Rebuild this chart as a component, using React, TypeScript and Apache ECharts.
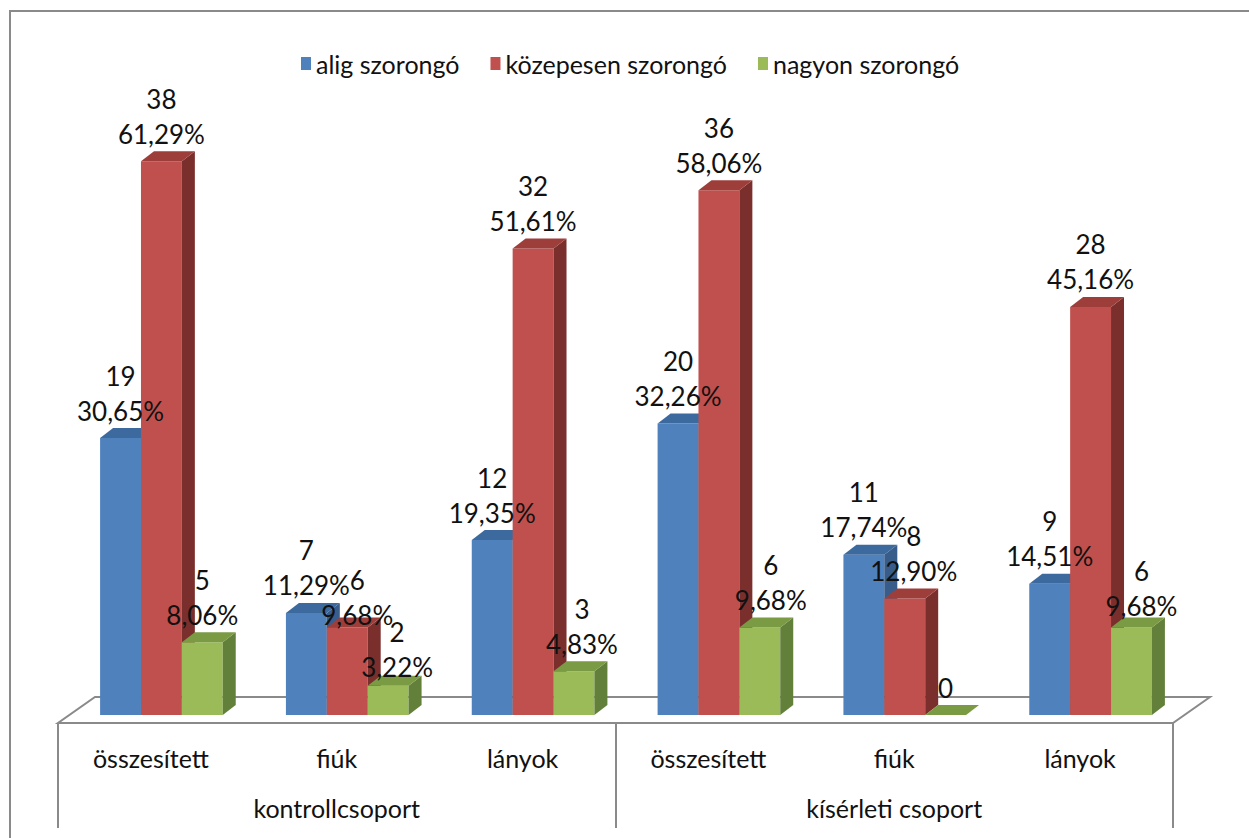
import React, { useEffect, useRef } from "react";
import * as echarts from "echarts";

// ---- data ----
const CATEGORIES = ["összesített", "fiúk", "lányok", "összesített", "fiúk", "lányok"];
const GROUPS = ["kontrollcsoport", "kísérleti csoport"];
const SERIES_NAMES = ["alig szorongó", "közepesen szorongó", "nagyon szorongó"];

const ALIG_COUNTS = [19, 7, 12, 20, 11, 9];
const ALIG_PCT = [30.65, 11.29, 19.35, 32.26, 17.74, 14.51];
const KOZEPES_COUNTS = [38, 6, 32, 36, 8, 28];
const KOZEPES_PCT = [61.29, 9.68, 51.61, 58.06, 12.9, 45.16];
const NAGYON_COUNTS = [5, 2, 3, 6, 0, 6];
const NAGYON_PCT = [8.06, 3.22, 4.83, 9.68, 0, 9.68];

const COUNTS = [ALIG_COUNTS, KOZEPES_COUNTS, NAGYON_COUNTS];
const PCTS = [ALIG_PCT, KOZEPES_PCT, NAGYON_PCT];

// ---- layout & style ----
const W = 1249;
const H = 838;
const FONT = 'Lato, "Open Sans", "DejaVu Sans", sans-serif';
const GRID_LEFT = 58;
const GRID_RIGHT = 1173;
const BASE_Y = 723;
const Y_MAX = 40;
const GRID_TOP = 140;

const BAR_RATIO = 0.22; // width of one bar as a share of the category band
const BAR_SHIFT_X = 10.5; // bars stand a little back on the floor
const BAR_SHIFT_Y = -8;
const DEPTH_X = 13;
const DEPTH_Y = -10;
const FLOOR_DX = 37;
const FLOOR_DY = -26;

const FRONT = ["#4F81BD", "#C0504D", "#9BBB59"];
const TOP = ["#3D6A9E", "#9E3E3B", "#7A9A43"];
const SIDE = ["#385D8A", "#7A2F2D", "#63803A"];
const LINE_GRAY = "#8A8A8A";

// small hand placement of the crowded value labels (px)
const LABEL_NUDGE_X = [
  [0, 0, 0, 0, 0, 0],
  [0, 10, 0, 0, 9, 0],
  [0, 9, 8, 11, 0, 10],
];
const LABEL_NUDGE_Y = [
  [0, 0, 0, 0, 0, 0],
  [0, 15, 0, 0, 0, 0],
  [0, 9, 0, 0, 0, 6],
];

const fmtPct = (p: number) => p.toFixed(2).replace(".", ",") + "%";

function barGeometry(api: any, k: number, i: number, v: number) {
  const base = api.coord([i, 0]);
  const top = api.coord([i, v]);
  const band = api.size([1, 0])[0];
  const w = band * BAR_RATIO;
  const x = base[0] + BAR_SHIFT_X - 1.5 * w + k * w;
  return { x, w, yb: base[1] + BAR_SHIFT_Y, yt: top[1] + BAR_SHIFT_Y };
}

function barSeries(k: number) {
  return {
    type: "custom",
    name: SERIES_NAMES[k],
    xAxisIndex: 0,
    yAxisIndex: 0,
    z: 2,
    itemStyle: { color: FRONT[k] },
    encode: { x: 0, y: 1 },
    data: COUNTS[k].map((c, i) => [i, c]),
    renderItem: (params: any, api: any) => {
      const i = api.value(0);
      const v = api.value(1);
      const { x, w, yb, yt } = barGeometry(api, k, i, v);
      const children: any[] = [];
      if (yb - yt > 0.5) {
        children.push({
          type: "rect",
          shape: { x, y: yt, width: w, height: yb - yt },
          style: { fill: FRONT[k] },
        });
        children.push({
          type: "polygon",
          shape: {
            points: [
              [x + w, yt],
              [x + w + DEPTH_X, yt + DEPTH_Y],
              [x + w + DEPTH_X, yb + DEPTH_Y],
              [x + w, yb],
            ],
          },
          style: { fill: SIDE[k] },
        });
      }
      children.push({
        type: "polygon",
        shape: {
          points: [
            [x, yt],
            [x + w, yt],
            [x + w + DEPTH_X, yt + DEPTH_Y],
            [x + DEPTH_X, yt + DEPTH_Y],
          ],
        },
        style: { fill: TOP[k] },
      });
      return { type: "group", children };
    },
  };
}

const labelData: number[][] = [];
COUNTS.forEach((arr, k) => arr.forEach((c, i) => labelData.push([i, c, k])));

const labelSeries = {
  type: "custom",
  name: "labels",
  xAxisIndex: 0,
  yAxisIndex: 0,
  z: 10,
  silent: true,
  encode: { x: 0, y: 1 },
  data: labelData,
  renderItem: (params: any, api: any) => {
    const i = api.value(0);
    const v = api.value(1);
    const k = api.value(2);
    const { x, w, yt } = barGeometry(api, k, i, v);
    const text = v === 0 ? String(v) : v + "\n" + fmtPct(PCTS[k][i]);
    return {
      type: "text",
      style: {
        text,
        x: x + w / 2 + LABEL_NUDGE_X[k][i],
        y: yt - 10 + LABEL_NUDGE_Y[k][i],
        align: "center",
        verticalAlign: "bottom",
        fontSize: 26,
        fontFamily: FONT,
        lineHeight: 35,
        fill: "#111",
      },
    };
  },
};

const option = {
  animation: false,
  backgroundColor: "#fff",
  legend: {
    left: 296,
    top: 46,
    icon: "rect",
    itemWidth: 10,
    itemHeight: 13,
    itemGap: 31,
    textStyle: { fontSize: 25, fontFamily: FONT, color: "#111" },
    data: SERIES_NAMES.map((n, k) => ({ name: n, itemStyle: { color: FRONT[k] } })),
  },
  grid: {
    left: GRID_LEFT,
    right: W - GRID_RIGHT,
    top: GRID_TOP,
    bottom: H - BASE_Y,
  },
  xAxis: [
    {
      type: "category",
      data: CATEGORIES,
      position: "bottom",
      axisLine: { show: false },
      axisTick: { show: false },
      axisLabel: { margin: 22, fontSize: 25, fontFamily: FONT, color: "#111" },
    },
    {
      type: "category",
      data: GROUPS,
      position: "bottom",
      axisLine: { show: false },
      axisTick: { show: true, length: 105, lineStyle: { color: LINE_GRAY, width: 2 } },
      axisLabel: { margin: 72, fontSize: 25, fontFamily: FONT, color: "#111" },
    },
  ],
  yAxis: { type: "value", min: 0, max: Y_MAX, show: false },
  graphic: [
    {
      type: "rect",
      z: 0,
      silent: true,
      shape: { x: 10, y: 11, width: W + 100, height: H + 100 },
      style: { fill: "none", stroke: LINE_GRAY, lineWidth: 2 },
    },
    {
      type: "polygon",
      z: 0,
      silent: true,
      shape: {
        points: [
          [GRID_LEFT, BASE_Y],
          [GRID_RIGHT, BASE_Y],
          [GRID_RIGHT + FLOOR_DX, BASE_Y + FLOOR_DY],
          [GRID_LEFT + FLOOR_DX, BASE_Y + FLOOR_DY],
        ],
      },
      style: { fill: "#fff", stroke: LINE_GRAY, lineWidth: 2 },
    },
  ],
  series: [barSeries(0), barSeries(1), barSeries(2), labelSeries],
};

export default function App() {
  const ref = useRef<HTMLDivElement>(null);
  useEffect(() => {
    const chart = echarts.init(ref.current!, undefined, { renderer: "svg" });
    chart.setOption(option as any);
    return () => chart.dispose();
  }, []);
  return (
    <div
      ref={ref}
      style={{ position: "fixed", left: 0, top: 0, width: W, height: H, background: "#fff" }}
    />
  );
}
